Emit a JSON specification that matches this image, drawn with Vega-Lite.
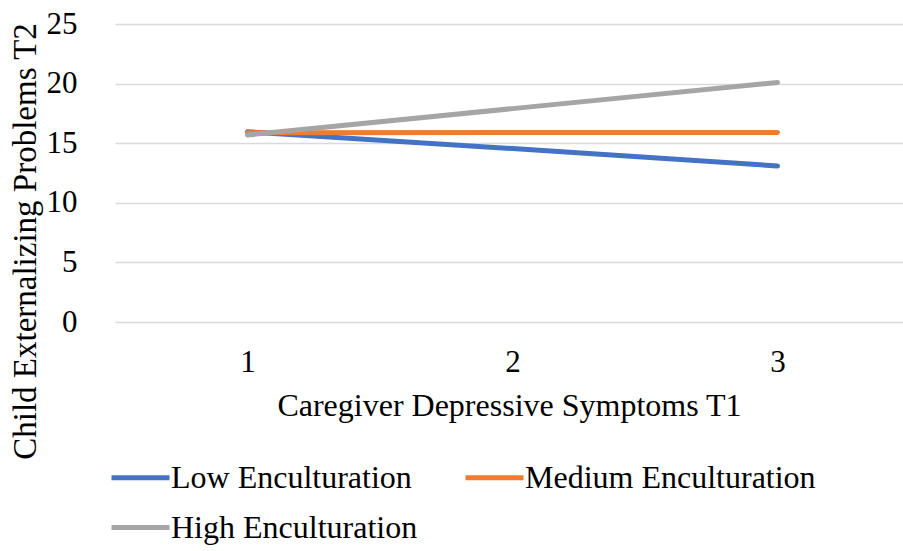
{
  "$schema": "https://vega.github.io/schema/vega-lite/v6.json",
  "width": 788,
  "height": 298,
  "autosize": {"type": "none"},
  "padding": {"left": 115, "top": 24, "right": 0, "bottom": 229},
  "background": "white",
  "config": {
    "font": "Liberation Serif",
    "axis": {"labelFont": "Liberation Serif", "titleFont": "Liberation Serif"},
    "legend": {"labelFont": "Liberation Serif", "titleFont": "Liberation Serif"},
    "view": {"stroke": null}
  },
  "data": {
    "values": [
      {"symptoms": 1, "group": "Low Enculturation", "problems": 15.96},
      {"symptoms": 2, "group": "Low Enculturation", "problems": 14.55},
      {"symptoms": 3, "group": "Low Enculturation", "problems": 13.09},
      {"symptoms": 1, "group": "Medium Enculturation", "problems": 15.88},
      {"symptoms": 2, "group": "Medium Enculturation", "problems": 15.89},
      {"symptoms": 3, "group": "Medium Enculturation", "problems": 15.9},
      {"symptoms": 1, "group": "High Enculturation", "problems": 15.69},
      {"symptoms": 2, "group": "High Enculturation", "problems": 17.9},
      {"symptoms": 3, "group": "High Enculturation", "problems": 20.1}
    ]
  },
  "mark": {"type": "line", "strokeWidth": 5, "strokeCap": "round", "strokeJoin": "round"},
  "encoding": {
    "x": {
      "field": "symptoms",
      "type": "quantitative",
      "scale": {"domain": [0.5, 3.4736], "nice": false, "zero": false},
      "axis": {
        "title": "Caregiver Depressive Symptoms T1",
        "values": [1, 2, 3],
        "format": "d",
        "grid": false,
        "domain": false,
        "ticks": false,
        "labelFontSize": 31,
        "labelColor": "#000000",
        "labelBaseline": "alphabetic",
        "labelPadding": 49,
        "titleFontSize": 32,
        "titleFontWeight": "normal",
        "titleColor": "#000000",
        "titleBaseline": "alphabetic",
        "titleY": 93
      }
    },
    "y": {
      "field": "problems",
      "type": "quantitative",
      "scale": {"domain": [0, 25], "nice": false},
      "axis": {
        "title": "Child Externalizing Problems T2",
        "values": [0, 5, 10, 15, 20, 25],
        "grid": true,
        "gridColor": "#d9d9d9",
        "gridWidth": 1.5,
        "domain": false,
        "ticks": false,
        "labelFontSize": 31,
        "labelColor": "#000000",
        "labelPadding": 38,
        "titleFontSize": 33,
        "titleFontWeight": "normal",
        "titleColor": "#000000",
        "titleAngle": -90,
        "titleAlign": "center",
        "titleBaseline": "alphabetic",
        "titleX": -80,
        "titleY": 217,
        "titleLimit": 0
      }
    },
    "color": {
      "field": "group",
      "type": "nominal",
      "scale": {
        "domain": ["Low Enculturation", "Medium Enculturation", "High Enculturation"],
        "range": ["#4472C4", "#ED7D31", "#A5A5A5"]
      },
      "legend": {
        "title": null,
        "orient": "none",
        "legendX": -6,
        "legendY": 422,
        "columns": 2,
        "direction": "horizontal",
        "symbolType": "stroke",
        "symbolSize": 3364,
        "symbolStrokeWidth": 5,
        "labelFontSize": 32,
        "labelColor": "#000000",
        "labelLimit": 0,
        "labelOffset": -1,
        "columnPadding": 37,
        "rowPadding": 2,
        "padding": 0
      }
    }
  }
}
